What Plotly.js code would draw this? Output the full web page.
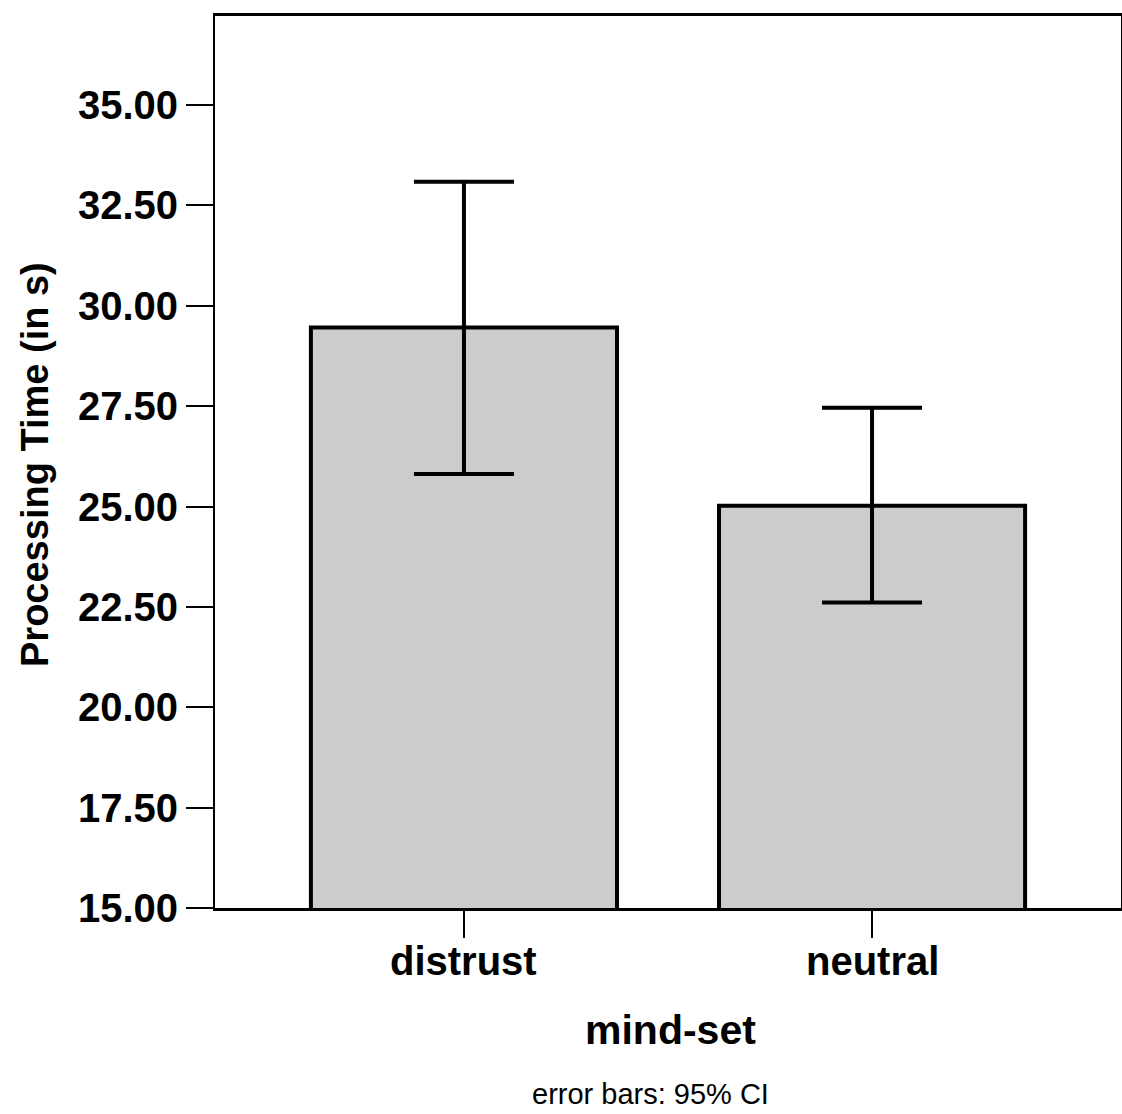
<!DOCTYPE html>
<html>
<head>
<meta charset="utf-8">
<script src="https://cdn.plot.ly/plotly-3.0.1.min.js"></script>
<style>html,body{margin:0;padding:0;background:#fff;}#chart{width:1122px;height:1114px;}</style>
</head>
<body>
<div id="chart"></div>
<script>
const categories = ['distrust', 'neutral'];
const means = [29.46, 25.02];
const ciUpper = [33.09, 27.46];
const ciLower = [25.81, 22.61];
const yTickVals = [15, 17.5, 20, 22.5, 25, 27.5, 30, 32.5, 35];

const FONT = 'Arial, "Liberation Sans", sans-serif';

const trace = {
  type: 'bar',
  x: categories,
  y: means,
  marker: {color: '#cccccc', line: {color: '#000000', width: 4}},
  error_y: {
    type: 'data',
    symmetric: false,
    array: means.map((m, i) => ciUpper[i] - m),
    arrayminus: means.map((m, i) => m - ciLower[i]),
    color: '#000000',
    thickness: 4,
    width: 50
  },
  hoverinfo: 'none'
};

const catLabels = categories.map(c => ({
  text: c, xref: 'x', yref: 'paper',
  x: c, y: (908 - 961) / 892,
  xanchor: 'center', yanchor: 'middle', showarrow: false,
  font: {family: FONT, size: 40, color: '#000000', weight: 'bold'}
}));

const layout = {
  width: 1122,
  height: 1114,
  margin: {l: 215, r: 1, t: 16, b: 206},
  paper_bgcolor: '#ffffff',
  plot_bgcolor: '#ffffff',
  showlegend: false,
  bargap: 0.25,
  xaxis: {
    type: 'category',
    range: [-0.61, 1.61],
    showline: true, linecolor: '#000000', linewidth: 3, mirror: true,
    ticks: 'outside', ticklen: 27, tickwidth: 2, tickcolor: '#000000',
    showticklabels: false,
    showgrid: false, zeroline: false, fixedrange: true
  },
  yaxis: {
    range: [15, 37.22],
    tickvals: yTickVals,
    tickformat: '.2f',
    showline: true, linecolor: '#000000', linewidth: 2, mirror: true,
    ticks: 'outside', ticklen: 27, tickwidth: 2, tickcolor: '#000000',
    tickfont: {family: FONT, size: 40, color: '#000000', weight: 'bold'},
    showgrid: false, zeroline: false, fixedrange: true
  },
  annotations: catLabels.concat([
    {
      text: 'mind-set', xref: 'paper', yref: 'paper',
      x: (670 - 215) / 906, y: (908 - 1030) / 892,
      xanchor: 'center', yanchor: 'middle', showarrow: false,
      font: {family: FONT, size: 41, color: '#000000', weight: 'bold'}
    },
    {
      text: 'error bars: 95% CI', xref: 'paper', yref: 'paper',
      x: (650 - 215) / 906, y: (908 - 1094) / 892,
      xanchor: 'center', yanchor: 'middle', showarrow: false,
      font: {family: FONT, size: 29, color: '#000000'}
    },
    {
      text: 'Processing Time (in s)', xref: 'paper', yref: 'paper',
      x: (35 - 215) / 906, y: (908 - 465) / 892,
      xanchor: 'center', yanchor: 'middle', showarrow: false, textangle: -90,
      font: {family: FONT, size: 38, color: '#000000', weight: 'bold'}
    }
  ])
};

Plotly.newPlot('chart', [trace], layout, {displayModeBar: false, staticPlot: true});
</script>
</body>
</html>
